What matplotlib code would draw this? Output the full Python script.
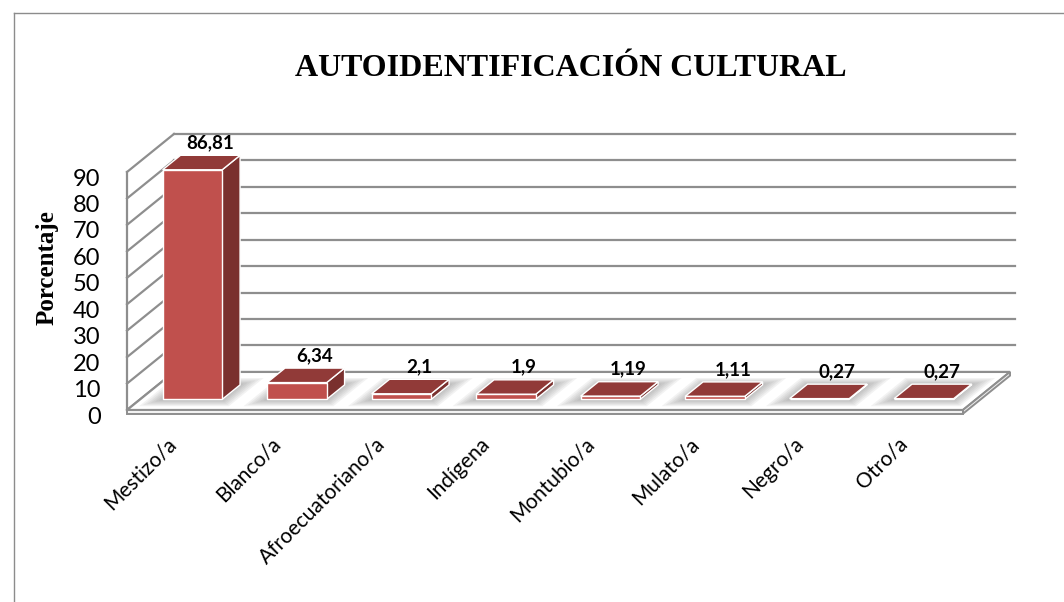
import matplotlib.pyplot as plt
from matplotlib.patches import Polygon
from matplotlib.lines import Line2D
from matplotlib.transforms import ScaledTranslation

# ---- data ----
categories = ['Mestizo/a', 'Blanco/a', 'Afroecuatoriano/a', 'Indígena',
              'Montubio/a', 'Mulato/a', 'Negro/a', 'Otro/a']
values = [86.81, 6.34, 2.1, 1.9, 1.19, 1.11, 0.27, 0.27]
yticks = [0, 10, 20, 30, 40, 50, 60, 70, 80, 90]

# ---- fake 3D geometry (depth shift in category / value units) ----
DX, DY = 0.45, 14.4
D_FRONT, D_BACK = 0.28, 0.66
BAR_W = 0.57
FRONT_C, SIDE_C, TOP_C = '#C0504D', '#7A302E', '#913A38'
GRID_C = '#8E8E8E'


def P(c, v, d):
    return (c + d * DX, v + d * DY)


fig = plt.figure(figsize=(10.64, 6.02), dpi=100)
ax = fig.add_axes([127 / 1064, (602 - 410) / 602, 836 / 1064, 238 / 602])
ax.set_xlim(-0.5, 7.5)
ax.set_ylim(0, 90)
for s in ax.spines.values():
    s.set_visible(False)
ax.patch.set_visible(False)

x0, x1 = -0.5, len(categories) - 0.5

# walls
ax.add_line(Line2D(*zip(P(x0, 0, 0), P(x0, 90, 0)), color=GRID_C, lw=1.6,
                   clip_on=False, zorder=1))
for v in yticks:
    ax.add_line(Line2D(*zip(P(x0, v, 0), P(x0, v, 1)), color=GRID_C, lw=1.6,
                       clip_on=False, zorder=1))
    if v > 0:
        ax.add_line(Line2D(*zip(P(x0, v, 1), P(x1 + 0.05, v, 1)), color=GRID_C, lw=1.6,
                           clip_on=False, zorder=1))

# floor with a thin slab
slab = -1.4
ax.add_patch(Polygon([P(x0, 0, 0), P(x1, 0, 0), P(x1, 0, 1), P(x0, 0, 1)],
                     closed=True, fc='white', ec=GRID_C, lw=1.6, clip_on=False, zorder=2))
ax.add_patch(Polygon([P(x0, 0, 0), P(x1, 0, 0), P(x1, slab, 0), P(x0, slab, 0)],
                     closed=True, fc='#F2F2F2', ec=GRID_C, lw=1.4, clip_on=False, zorder=2))
ax.add_patch(Polygon([P(x1, 0, 0), P(x1, 0, 1), P(x1, slab, 1), P(x1, slab, 0)],
                     closed=True, fc='#F2F2F2', ec=GRID_C, lw=1.4, clip_on=False, zorder=2))

# soft shadows under the bars
for i in range(len(categories)):
    for k in range(6):
        mx = 0.02 + 0.025 * k
        md = 0.03 + 0.03 * k
        poly = [P(i - BAR_W / 2 - mx, 0, D_FRONT - md), P(i + BAR_W / 2 + mx, 0, D_FRONT - md),
                P(i + BAR_W / 2 + mx, 0, D_BACK + md), P(i - BAR_W / 2 - mx, 0, D_BACK + md)]
        ax.add_patch(Polygon(poly, closed=True, fc='#606060', ec='none', alpha=0.08,
                             clip_on=False, zorder=3))

# bars: front faces through ax.bar, side and top as polygons
xs = [i + D_FRONT * DX for i in range(len(categories))]
ax.bar(xs, values, width=BAR_W, bottom=D_FRONT * DY, color=FRONT_C,
       edgecolor='white', linewidth=1, clip_on=False, zorder=6)
for i, v in enumerate(values):
    r, l = i + BAR_W / 2, i - BAR_W / 2
    ax.add_patch(Polygon([P(r, 0, D_FRONT), P(r, 0, D_BACK), P(r, v, D_BACK), P(r, v, D_FRONT)],
                         closed=True, fc=SIDE_C, ec='white', lw=1, clip_on=False, zorder=5))
    ax.add_patch(Polygon([P(l, v, D_FRONT), P(r, v, D_FRONT), P(r, v, D_BACK), P(l, v, D_BACK)],
                         closed=True, fc=TOP_C, ec='white', lw=1, clip_on=False, zorder=5))
    lbl = f'{v:g}'.replace('.', ',')
    ax.annotate(lbl, xy=P(i, v, D_BACK), xytext=(0, 3), textcoords='offset points',
                ha='center', va='bottom', fontsize=13.5, fontweight='bold',
                family='Lato', annotation_clip=False, zorder=8)

# axes ticks
ax.set_yticks(yticks)
ax.set_yticklabels([str(t) for t in yticks], fontsize=17, family='Lato')
ax.tick_params(axis='y', length=0, pad=19)
shift = ScaledTranslation(0, -5 / 100, fig.dpi_scale_trans)
for t in ax.get_yticklabels():
    t.set_transform(t.get_transform() + shift)

ax.set_xticks(range(len(categories)))
ax.set_xticklabels(categories, rotation=45, ha='right', va='center',
                   rotation_mode='anchor', fontsize=15, family='Lato')
ax.tick_params(axis='x', length=0, pad=22)
xshift = ScaledTranslation(-6 / 100, 0, fig.dpi_scale_trans)
for t in ax.get_xticklabels():
    t.set_transform(t.get_transform() + xshift)

# titles
fig.text(571 / 1064, 1 - 68 / 602, 'AUTOIDENTIFICACIÓN CULTURAL', ha='center', va='center',
         fontsize=23, fontweight='bold', family='Liberation Serif')
fig.text(47 / 1064, 1 - 268 / 602, 'Porcentaje', rotation=90, ha='center', va='center',
         fontsize=18, fontweight='bold', family='Liberation Serif')

# chart frame (left and top edges visible)
fig.add_artist(Line2D([14 / 1064, 14 / 1064], [0, 1 - 13 / 602], transform=fig.transFigure,
                      color='#8C8C8C', lw=1))
fig.add_artist(Line2D([14 / 1064, 1], [1 - 13 / 602, 1 - 13 / 602], transform=fig.transFigure,
                      color='#8C8C8C', lw=1))

fig.savefig('out.png', dpi=100)
